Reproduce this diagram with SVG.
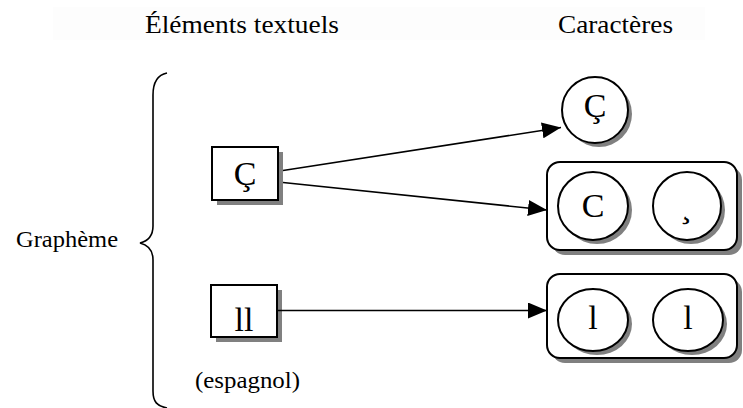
<svg xmlns="http://www.w3.org/2000/svg" width="743" height="408" viewBox="0 0 743 408">
  <defs>
    <marker id="head" markerUnits="userSpaceOnUse" markerWidth="20" markerHeight="16" viewBox="0 0 20 16" refX="19" refY="8" orient="auto">
      <path d="M0,0 L19,8 L0,16 z" fill="#000"/>
    </marker>
  </defs>
  <style>
    .head { font-size: 25px; }
    .lbl { font-size: 24px; }
    .glyph { font-size: 34px; text-anchor: middle; }
    .box { fill: #fff; stroke: #000; stroke-width: 2; }
    .shadow { fill: #808080; }
    .edge { stroke: #000; stroke-width: 1.6; fill: none; marker-end: url(#head); }
  </style>

  <rect width="743" height="408" fill="#fff"/>
  <g font-family="'Liberation Serif', 'DejaVu Serif', serif" fill="#000">
  <!-- column headings -->
  <rect x="53" y="7" width="652" height="33" fill="#fdfdfd"/>
  <text class="head" x="145" y="33" textLength="194" lengthAdjust="spacingAndGlyphs">Éléments textuels</text>
  <text class="head" x="558" y="33" textLength="115" lengthAdjust="spacingAndGlyphs">Caractères</text>

  <!-- grapheme brace -->
  <g id="grapheme">
    <text class="lbl" x="16" y="247" textLength="102" lengthAdjust="spacingAndGlyphs">Graphème</text>
    <path d="M167,73 C157,75 153,82 153,95 L153,226 C153,236 148,241 140,243 C148,245 153,250 153,260 L153,391 C153,402 157,406 167,408" fill="none" stroke="#000" stroke-width="1.6"/>
  </g>

  <!-- textual elements -->
  <g id="elem-c-cedilla">
    <rect class="shadow" x="217" y="152" width="66" height="53"/>
    <rect class="box" x="212" y="147" width="66" height="53"/>
    <text class="glyph" x="245" y="185">Ç</text>
  </g>
  <g id="elem-ll">
    <rect class="shadow" x="216" y="290" width="66" height="52"/>
    <rect class="box" x="211" y="285" width="66" height="52"/>
    <text class="glyph" x="244" y="331">ll</text>
    <text class="lbl" x="195" y="388" textLength="105" lengthAdjust="spacingAndGlyphs">(espagnol)</text>
  </g>

  <!-- characters -->
  <g id="char-c-cedilla">
    <circle class="shadow" cx="599" cy="114" r="33"/>
    <circle class="box" cx="595" cy="110" r="33"/>
    <text class="glyph" x="595" y="117">Ç</text>
  </g>
  <g id="chars-c-plus-cedilla">
    <rect class="shadow" x="552" y="167" width="190" height="88" rx="13"/>
    <rect class="box" x="547" y="162" width="190" height="88" rx="13"/>
    <ellipse class="shadow" cx="597" cy="210" rx="35" ry="34"/>
    <ellipse class="box" cx="593" cy="206" rx="35" ry="34"/>
    <text class="glyph" x="593" y="217">C</text>
    <ellipse class="shadow" cx="691" cy="210" rx="34" ry="34"/>
    <ellipse class="box" cx="687" cy="206" rx="34" ry="34"/>
    <text class="glyph" x="686" y="217">¸</text>
  </g>
  <g id="chars-l-l">
    <rect class="shadow" x="552" y="279" width="190" height="84" rx="13"/>
    <rect class="box" x="547" y="274" width="190" height="84" rx="13"/>
    <ellipse class="shadow" cx="597" cy="324" rx="35" ry="31"/>
    <ellipse class="box" cx="593" cy="320" rx="35" ry="31"/>
    <text class="glyph" x="593" y="329">l</text>
    <ellipse class="shadow" cx="692" cy="324" rx="35" ry="31"/>
    <ellipse class="box" cx="688" cy="320" rx="35" ry="31"/>
    <text class="glyph" x="688" y="329">l</text>
  </g>

  <!-- connectors -->
  <g id="connectors">
    <line class="edge" x1="283" y1="170.5" x2="561" y2="127.5"/>
    <line class="edge" x1="283" y1="182.5" x2="547" y2="210"/>
    <line class="edge" x1="277" y1="310.5" x2="547" y2="310.5"/>
  </g>
  </g>
</svg>
